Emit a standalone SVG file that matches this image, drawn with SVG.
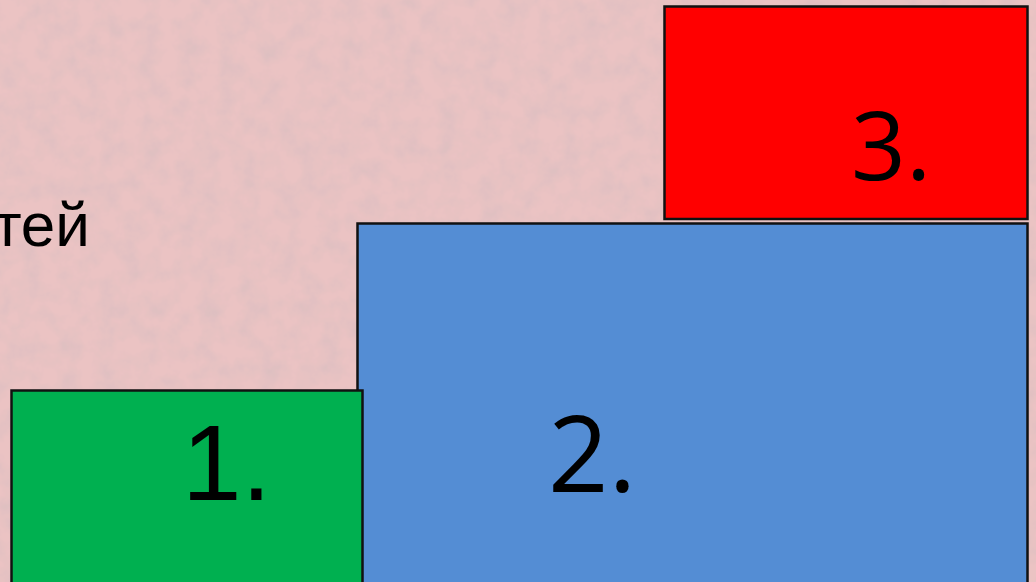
<svg xmlns="http://www.w3.org/2000/svg" width="1036" height="582" viewBox="0 0 1036 582">
  <defs>
    <filter id="paper" x="0" y="0" width="100%" height="100%">
      <feTurbulence type="fractalNoise" baseFrequency="0.05" numOctaves="4" seed="4" result="n"/>
      <feColorMatrix in="n" type="matrix" values="0 0 0 0 0.72  0 0 0 0 0.52  0 0 0 0 0.53  0 0 0 1.6 -0.55" result="c"/>
      <feComposite in="c" in2="SourceGraphic" operator="over"/>
    </filter>
  </defs>
  <style>
    .box { stroke: #111; stroke-width: 2.5; }
    .num { fill: #000; }
    .calib { font-family: "Open Sans", "DejaVu Sans", sans-serif; }
    .arial { font-family: "Liberation Sans", Arial, sans-serif; }
  </style>
  <rect x="0" y="0" width="1036" height="582" fill="#ebc3c3" filter="url(#paper)"/>
  <text x="90" y="246" text-anchor="end" class="arial num" font-size="62">тей</text>
  <g id="node3">
    <rect class="box" x="664.5" y="6.5" width="363" height="212.5" fill="#ff0000"/>
    <text x="851" y="180" class="calib num" font-size="96">3.</text>
  </g>
  <g id="node2">
    <rect class="box" x="357.5" y="223.5" width="670" height="370" fill="#548dd4"/>
    <text x="548" y="492" class="calib num" font-size="106">2.</text>
  </g>
  <g id="node1">
    <rect class="box" x="11.5" y="390.5" width="351" height="200" fill="#00b050"/>
    <text x="182" y="500" class="arial num" font-size="107">1.</text>
  </g>
  <g id="connectors"></g>
</svg>
